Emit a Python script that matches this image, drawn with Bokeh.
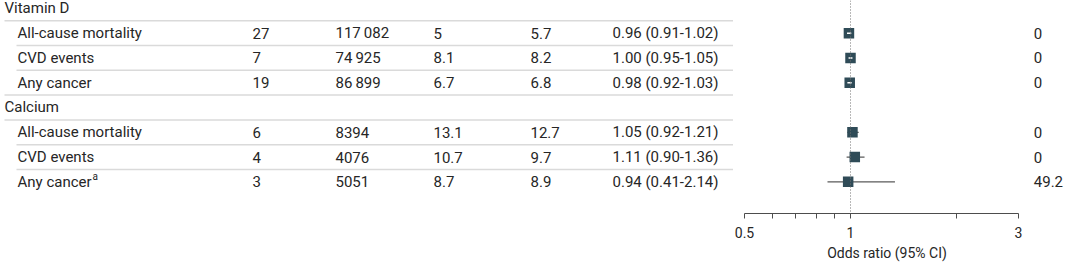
import math

from bokeh.core.properties import value
from bokeh.embed import file_html
from bokeh.layouts import row
from bokeh.models import (ColumnDataSource, FixedTicker, LinearAxis, LogScale,
                          NumeralTickFormatter, Range1d, Span)
from bokeh.plotting import figure
from bokeh.resources import INLINE

# ---- data -----------------------------------------------------------------
groups = ["Vitamin D", "Calcium"]
outcomes = [
    ["All-cause mortality", "CVD events", "Any cancer"],
    ["All-cause mortality", "CVD events", "Any cancer"],
]
footnotes = ["", "", "", "", "", "a"]
n_trials = [27, 7, 19, 6, 4, 3]
n_participants = [117082, 74925, 86899, 8394, 4076, 5051]
rate_supplement = [5, 8.1, 6.7, 13.1, 10.7, 8.7]
rate_control = [5.7, 8.2, 6.8, 12.7, 9.7, 8.9]
odds_ratio = [0.96, 1.00, 0.98, 1.05, 1.11, 0.94]
ci_low = [0.91, 0.95, 0.92, 0.92, 0.90, 0.41]
ci_high = [1.02, 1.05, 1.03, 1.21, 1.36, 2.14]
i_squared = [0, 0, 0, 0, 0, 49.2]

axis_ticks = [0.5, 1, 3]
axis_tick_labels = ["0.5", "1", "3"]
axis_minor_ticks = [0.6, 0.7, 0.8, 0.9, 2]

# ---- layout constants -----------------------------------------------------
H = 263
FRAME_H = 214          # plot area height; the odds-ratio axis sits below it
ROW_H = 24.9
ROW0 = 7.9             # centre of the first table row, from the top
TABLE_W = 733
FOREST_W = 297
FOREST_PAD = 10
I2_W = 1080 - TABLE_W - FOREST_W
LABEL_X = 17
CHAR_W = 7.4           # rough advance of a 15px Roboto character

FONT = value("Roboto")
TXT = "#262626"
BOX = "#2f4b57"
RULE = "#dadada"

# ---- rows -----------------------------------------------------------------
header_rows, header_text = [], []
item_rows, item_text = [], []
r = 0
for g, outs in zip(groups, outcomes):
    header_rows.append(r)
    header_text.append(g)
    r += 1
    for o in outs:
        item_rows.append(r)
        item_text.append(o)
        r += 1
n_rows = r


def fmt_count(n):
    return f"{n:,}".replace(",", "\u2009") if n >= 10000 else str(n)


items = ColumnDataSource(dict(
    y=item_rows,
    label=item_text,
    note=footnotes,
    note_x=[LABEL_X + len(t) * CHAR_W + 1 for t in item_text],
    note_y=[v - 0.2 for v in item_rows],
    trials=[str(v) for v in n_trials],
    participants=[fmt_count(v) for v in n_participants],
    sup=[f"{v:g}" for v in rate_supplement],
    ctl=[f"{v:g}" for v in rate_control],
    ortext=[f"{e:.2f} ({lo:.2f}-{hi:.2f})" for e, lo, hi in zip(odds_ratio, ci_low, ci_high)],
    est=odds_ratio,
    lo=ci_low,
    hi=ci_high,
    i2=[f"{v:g}" for v in i_squared],
))

# shared vertical mapping: row index -> pixel, top down
y_top = -ROW0 / ROW_H
y_range = Range1d(start=y_top + FRAME_H / ROW_H, end=y_top)


def panel(width, x_range, left=0):
    p = figure(width=width, height=H, x_range=x_range, y_range=y_range,
               output_backend="svg", toolbar_location=None,
               x_axis_location=None, y_axis_location=None,
               min_border_left=left, min_border_right=0, min_border_top=0,
               min_border_bottom=H - FRAME_H)
    p.grid.grid_line_color = None
    p.outline_line_color = None
    p.background_fill_color = "white"
    p.border_fill_color = "white"
    return p


# ---- table ----------------------------------------------------------------
table = panel(TABLE_W, Range1d(0, TABLE_W))

# separator rules below every row but the last
rule_y, rule_x0 = [], []
for i in range(n_rows - 1):
    rule_y.append(i + 0.5)
    at_group_edge = (i in header_rows) or (i + 1 in header_rows)
    rule_x0.append(4 if at_group_edge else 16)
table.segment(x0=rule_x0, x1=732.7, y0=rule_y, y1=rule_y,
              line_color=RULE, line_width=1.5)

text_kw = dict(text_font=FONT, text_font_size="15px", text_baseline="middle",
               text_align="left", text_color=TXT)
table.text(x=4, y=header_rows, text=header_text, **text_kw)
for col, x in [("label", LABEL_X), ("trials", 252), ("participants", 335),
               ("sup", 433), ("ctl", 530), ("ortext", 612)]:
    table.text(x=x, y="y", text=col, source=items, **text_kw)
table.text(x="note_x", y="note_y", text="note", source=items,
           text_font=FONT, text_font_size="10px", text_baseline="middle",
           text_align="left", text_color=TXT)

# ---- forest ---------------------------------------------------------------
PX_PER_UNIT = 39.0     # linear spacing of the estimate markers
ONE_AT = 107.0         # pixel offset of OR = 1 inside the forest frame
frame_w = FOREST_W - FOREST_PAD
lin_start = 1 - ONE_AT / PX_PER_UNIT
forest = panel(FOREST_W, Range1d(lin_start, lin_start + frame_w / PX_PER_UNIT),
               left=FOREST_PAD)

# logarithmic odds-ratio axis: 0.5 near the left edge, 3 near the right
k = (ONE_AT - 1) / math.log(1 / 0.5)
log_start = 0.5 * math.exp(-1 / k)
log_end = 0.5 * math.exp((frame_w - 1) / k)
forest.extra_x_ranges = {"or": Range1d(log_start, log_end)}
forest.extra_x_scales = {"or": LogScale()}

axis = LinearAxis(x_range_name="or",
                  ticker=FixedTicker(ticks=axis_ticks, minor_ticks=axis_minor_ticks),
                  formatter=NumeralTickFormatter(format="0.[0]"),
                  bounds=(min(axis_ticks), max(axis_ticks)),
                  axis_label="Odds ratio (95% CI)")
axis.major_label_overrides = dict(zip(axis_ticks, axis_tick_labels))
axis.axis_line_color = "#4d4d4d"
axis.major_tick_line_color = "#4d4d4d"
axis.minor_tick_line_color = "#4d4d4d"
axis.major_tick_in = 0
axis.major_tick_out = 5
axis.minor_tick_in = 0
axis.minor_tick_out = 5
axis.major_label_standoff = 8
axis.major_label_text_font = "Roboto"
axis.major_label_text_font_size = "14px"
axis.major_label_text_color = TXT
axis.axis_label_standoff = 4
axis.axis_label_text_font = "Roboto"
axis.axis_label_text_font_size = "14px"
axis.axis_label_text_font_style = "normal"
axis.axis_label_text_color = TXT
forest.add_layout(axis, "below")

forest.add_layout(Span(location=1, dimension="height", line_color="#707070",
                       line_width=1, line_dash="1 2"))

MARKER = 10.5
forest.segment(x0="lo", x1="hi", y0="y", y1="y", source=items,
               line_color="#5a5a5a", line_width=1.2)
forest.scatter(x="est", y="y", source=items, marker="square", size=MARKER,
               fill_color=BOX, line_color=None)

# intervals narrower than the marker are drawn in white on top of it
half = MARKER / 2 / PX_PER_UNIT
inside = [i for i, (e, lo, hi) in enumerate(zip(odds_ratio, ci_low, ci_high))
          if e - lo < half and hi - e < half]
forest.segment(x0=[ci_low[i] for i in inside], x1=[ci_high[i] for i in inside],
               y0=[item_rows[i] for i in inside], y1=[item_rows[i] for i in inside],
               line_color="white", line_width=1.5)

# ---- heterogeneity column -------------------------------------------------
het = panel(I2_W, Range1d(0, I2_W))
het.text(x=3.3, y="y", text="i2", source=items, **text_kw)

layout = row(table, forest, het, spacing=0)

with open("out.html", "w") as f:
    f.write(file_html(layout, INLINE))
